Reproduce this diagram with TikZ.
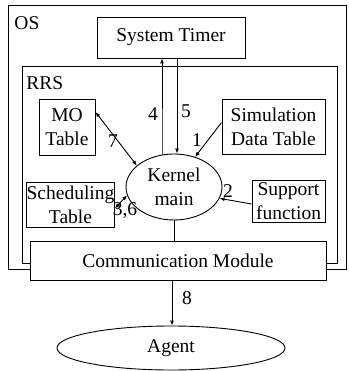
\documentclass[tikz,border=0pt]{standalone}
\usepackage{fontspec}
\setmainfont{Liberation Serif}
\usetikzlibrary{shapes.geometric,arrows.meta}
\begin{document}
\begin{tikzpicture}[x=1pt,y=-1pt,line width=0.9pt,
  txt/.style={font=\fontsize{19.5}{24}\selectfont},
  box/.style={draw,fill=white,rectangle,inner sep=0pt,align=center,txt},
  oval/.style={draw,fill=white,ellipse,inner sep=0pt,align=center,txt},
  lab/.style={inner sep=0pt,txt},
  arr/.style={-{Latex[length=5pt,width=4pt]}},
  darr/.style={{Latex[length=5pt,width=4pt]}-{Latex[length=5pt,width=4pt]}}]
\useasboundingbox (0,0) rectangle (348,371);
% outer frames
\node[draw,rectangle,minimum width=338pt,minimum height=264pt,inner sep=0pt] (os) at (177.5,137.5) {};
\node[lab,anchor=west] (oslab) at (14,23) {OS};
\node[draw,rectangle,minimum width=315pt,minimum height=197pt,inner sep=0pt] (rrs) at (179.5,164.5) {};
\node[lab,anchor=west] (rrslab) at (26,83) {RRS};
% boxes
\node[box,minimum width=148pt,minimum height=41pt] (timer) at (171,37.5) {System Timer};
\node[box,minimum width=56pt,minimum height=56pt] (mo) at (67,127) {MO\\Table};
\node[box,minimum width=103pt,minimum height=55pt] (sim) at (273.5,126.5) {Simulation\\Data Table};
\node[box,minimum width=81pt,minimum height=45pt] (sched) at (70.5,204.5) {Scheduling\\Table};
\node[box,minimum width=73pt,minimum height=42pt] (sup) at (288.5,201) {Support\\function};
\node[oval,minimum width=96pt,minimum height=66pt] (kern) at (174,187) {Kernel\\main};
\node[box,minimum width=296pt,minimum height=39pt] (comm) at (178,260.5) {Communication Module};
\node[oval,minimum width=228pt,minimum height=44pt] (agent) at (171,348) {Agent};
% connectors
\draw[arr] ([xshift=-12pt,yshift=-1pt]kern.north) -- (kern.north -| 162,0) coordinate (t4) -- (t4 |- timer.south);
\draw[arr] (timer.south -| 177,0) -- ([xshift=3pt]kern.north);
\draw[arr] ([yshift=4pt]sim.west) -- (kern.55);
\draw[darr] ([yshift=15pt]mo.east) -- (kern.150);
\draw[darr] ([yshift=-4pt]sched.east) -- (kern.190);
\draw[arr] ([yshift=-3pt]sup.west) -- (kern.-14);
\draw (kern.south) -- (kern.south |- comm.north);
\draw[arr] (comm.south -| 172,0) -- (agent.north -| 172,0);
% labels
\node[lab] (l4) at (153,114) {4};
\node[lab] (l5) at (186,111) {5};
\node[lab] (l1) at (197,140) {1};
\node[lab] (l7) at (113,141) {7};
\node[lab] (l2) at (228,191) {2};
\node[lab] (l36) at (125,211) {3,6};
\node[lab] (l8) at (187,298) {8};
\end{tikzpicture}
\end{document}
